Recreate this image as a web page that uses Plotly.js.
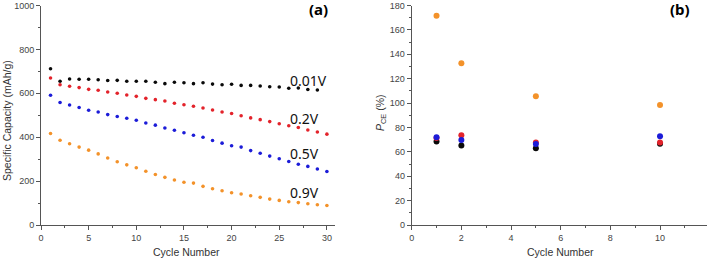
<!DOCTYPE html>
<html><head><meta charset="utf-8">
<script src="https://cdn.plot.ly/plotly-3.0.1.min.js"></script>
<style>html,body{margin:0;padding:0;background:#fff}#c{width:709px;height:263px}</style>
</head><body><div id="c"></div>
<script>
// Panel (a): specific capacity vs cycle number
const cyclesA = Array.from({length: 30}, (_, i) => i + 1);
const cap001 = [712,655,665,664,664,662,658,659,655,655,655,650,644,650,648,644,648,642,639,641,636,636,633,630,629,623,624,617,615];
const cap02  = [670,639,632,626,618,614,606,600,592,586,577,571,565,555,548,541,533,524,515,508,498,488,480,471,461,452,444,433,424,414];
const cap05  = [591,558,547,535,523,515,503,494,486,477,465,455,442,432,420,409,400,385,373,361,355,339,327,314,302,289,277,267,255,244];
const cap09  = [417,386,370,355,341,324,305,288,274,261,245,230,217,205,195,191,176,165,156,147,141,133,126,118,112,106,102,97,92,89];
const seriesLabels = ["0.01V", "0.2V", "0.5V", "0.9V"];
const labelY = [659, 486, 327, 150];

// Panel (b): P_CE vs cycle number
const cyclesB = [1, 2, 5, 10];
const pce001 = [68.4, 65.1, 62.9, 66.7];
const pce02  = [71.3, 73.6, 67.6, 67.6];
const pce05  = [71.9, 69.7, 66.5, 72.8];
const pce09  = [171.5, 132.7, 105.6, 98.5];

const colBlack = "#0a0a0a", colRed = "#e3232b", colBlue = "#1c1cd8", colOrange = "#f3922a";
const tickFont = {family: "Liberation Sans, Arial, sans-serif", size: 9, color: "#444"};

function sc(x, y, color, size, xa, ya) {
  return {x: x, y: y, type: "scatter", mode: "markers", xaxis: xa, yaxis: ya,
    marker: {color: color, size: size, line: {width: 0}}, showlegend: false, hoverinfo: "skip"};
}
const dA = 3.6, dB = 6;
const data = [
  sc(cyclesA.slice(0, cap001.length), cap001, colBlack, dA, "x", "y"),
  sc(cyclesA, cap02, colRed, dA, "x", "y"),
  sc(cyclesA, cap05, colBlue, dA, "x", "y"),
  sc(cyclesA, cap09, colOrange, dA, "x", "y"),
  sc(cyclesB, pce001, colBlack, dB, "x2", "y2"),
  sc(cyclesB, pce02, colRed, dB, "x2", "y2"),
  sc(cyclesB, pce05, colBlue, dB, "x2", "y2"),
  sc(cyclesB, pce09, colOrange, dB, "x2", "y2")
];

function axis(extra) {
  return Object.assign({
    showgrid: false, zeroline: false, showline: true, linecolor: "#555", linewidth: 1,
    ticks: "outside", ticklen: 4, tickcolor: "#555", tickwidth: 1, tickfont: tickFont,
    mirror: false
  }, extra);
}
const yTop = 1 - 5.5 / 263, yBot = 1 - 225 / 263;
const layout = {
  width: 709, height: 263, margin: {l: 0, r: 0, t: 0, b: 0},
  paper_bgcolor: "#fff", plot_bgcolor: "#fff",
  xaxis: axis({domain: [41/709, 335/709], range: [0, 30.85], tickvals: [0,5,10,15,20,25,30],
    minor: {dtick: 2.5, tick0: 0, ticklen: 2, tickcolor: "#555", ticks: "outside"}, anchor: "y"}),
  yaxis: axis({domain: [yBot, yTop], range: [0, 1000], tickvals: [0,200,400,600,800,1000],
    minor: {dtick: 100, tick0: 0, ticklen: 2, tickcolor: "#555", ticks: "outside"}, anchor: "x"}),
  xaxis2: axis({domain: [411.7/709, 706.7/709], range: [0, 11.88], tickvals: [0,2,4,6,8,10],
    minor: {dtick: 1, tick0: 0, ticklen: 2, tickcolor: "#555", ticks: "outside"}, anchor: "y2"}),
  yaxis2: axis({domain: [yBot, yTop], range: [0, 180], tickvals: [0,20,40,60,80,100,120,140,160,180],
    minor: {dtick: 10, tick0: 0, ticklen: 2, tickcolor: "#555", ticks: "outside"}, anchor: "x2"}),
  annotations: []
};
const lblFont = {family: "Noto Sans, Open Sans, sans-serif", size: 14, color: "#111"};
seriesLabels.forEach((t, i) => {
  layout.annotations.push({xref: "x", yref: "y", x: 25.9, y: labelY[i], text: t, showarrow: false,
    xanchor: "left", yanchor: "middle", font: lblFont});
});
const titleFont = {family: "Liberation Sans, Arial, sans-serif", size: 10.5, color: "#333"};
layout.annotations.push(
  {xref: "paper", yref: "paper", x: 187/709, y: 1 - 252/263, text: "Cycle Number", showarrow: false,
   xanchor: "center", yanchor: "middle", font: titleFont},
  {xref: "paper", yref: "paper", x: 560/709, y: 1 - 252/263, text: "Cycle Number", showarrow: false,
   xanchor: "center", yanchor: "middle", font: titleFont},
  {xref: "paper", yref: "paper", x: 7/709, y: 1 - 121/263, text: "Specific Capacity (mAh/g)", showarrow: false,
   textangle: -90, xanchor: "center", yanchor: "middle", font: titleFont},
  {xref: "paper", yref: "paper", x: 381/709, y: 1 - 113/263, text: "<i>P</i><sub>CE</sub> (%)", showarrow: false,
   textangle: -90, xanchor: "center", yanchor: "middle", font: titleFont},
  {xref: "paper", yref: "paper", x: 318/709, y: 1 - 9/263, text: "<b>(a)</b>", showarrow: false,
   xanchor: "center", yanchor: "middle", font: {family: "Noto Sans, sans-serif", size: 15, color: "#000"}},
  {xref: "paper", yref: "paper", x: 680/709, y: 1 - 9/263, text: "<b>(b)</b>", showarrow: false,
   xanchor: "center", yanchor: "middle", font: {family: "Noto Sans, sans-serif", size: 15, color: "#000"}}
);
Plotly.newPlot("c", data, layout, {staticPlot: true, displayModeBar: false});
</script></body></html>
